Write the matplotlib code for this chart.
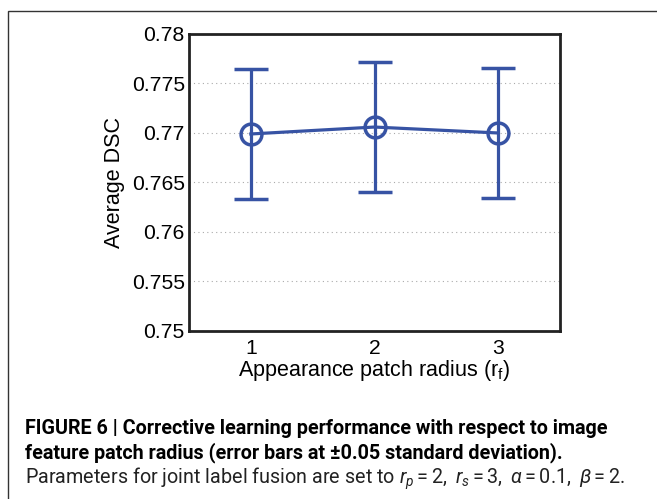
import matplotlib
matplotlib.use("Agg")
import matplotlib.pyplot as plt
from matplotlib.patches import Rectangle

# Data
radius = [1, 2, 3]
mean_dsc = [0.7699, 0.7706, 0.7700]
err_dsc = [0.0066, 0.0066, 0.0066]
y_ticks = [0.75, 0.755, 0.76, 0.765, 0.77, 0.775, 0.78]
y_tick_labels = ["0.75", "0.755", "0.76", "0.765", "0.77", "0.775", "0.78"]

BLUE = "#3753a4"

plt.rcParams['font.family'] = ['Liberation Sans', 'DejaVu Sans']
plt.rcParams['mathtext.fontset'] = 'custom'
plt.rcParams['mathtext.rm'] = 'Roboto'
plt.rcParams['mathtext.it'] = 'Roboto:italic'

fig = plt.figure(figsize=(6.57, 4.99), dpi=100)
ax = fig.add_axes([0.2877, 0.3367, 0.5647, 0.5952])

ax.errorbar(radius, mean_dsc, yerr=err_dsc, color=BLUE, lw=2.3,
            marker='o', ms=15, mfc='none', mew=2.5, capsize=12, capthick=2.3,
            elinewidth=2.3)

ax.set_xlim(0.5, 3.5)
ax.set_ylim(0.75, 0.78)
ax.set_xticks(radius)
ax.set_xticklabels([str(r) for r in radius])
ax.set_yticks(y_ticks)
ax.set_yticklabels(y_tick_labels)
ax.tick_params(length=0, labelsize=15.2)
ax.tick_params(axis='x', pad=6)
ax.tick_params(axis='y', pad=3)
ax.yaxis.grid(True, linestyle=(0, (1, 3)), color='#aaaaaa', lw=0.8)
for s in ax.spines.values():
    s.set_linewidth(2)
    s.set_color('#222222')

ax.set_xlabel("Appearance patch radius (r$_\\mathregular{f}$)", fontsize=15.5, labelpad=0)
ax.set_ylabel("Average DSC", fontsize=15.5, labelpad=5)

# outer frame of the figure panel
fig.patches.append(Rectangle((8 / 657, -0.05), 1.2, 1 - 11 / 499 + 0.05,
                             transform=fig.transFigure, fill=False,
                             edgecolor='#333333', lw=1.0))

cap_font = ['Roboto', 'DejaVu Sans']
fig.text(25 / 657, 1 - 428 / 499,
         "FIGURE 6 | Corrective learning performance with respect to image",
         family=cap_font, fontweight='bold', fontsize=14.2, va='center')
fig.text(25 / 657, 1 - 453 / 499,
         "feature patch radius (error bars at \u00b10.05 standard deviation).",
         family=cap_font, fontweight='bold', fontsize=14.2, va='center')
fig.text(25 / 657, 1 - 479 / 499,
         "Parameters for joint label fusion are set to $r_p = 2,\\ r_s = 3,\\ \\alpha = 0.1,\\ \\beta = 2.$",
         family=cap_font, fontsize=14.2, va='center', color='#222222')

fig.savefig("out.png", dpi=100)
